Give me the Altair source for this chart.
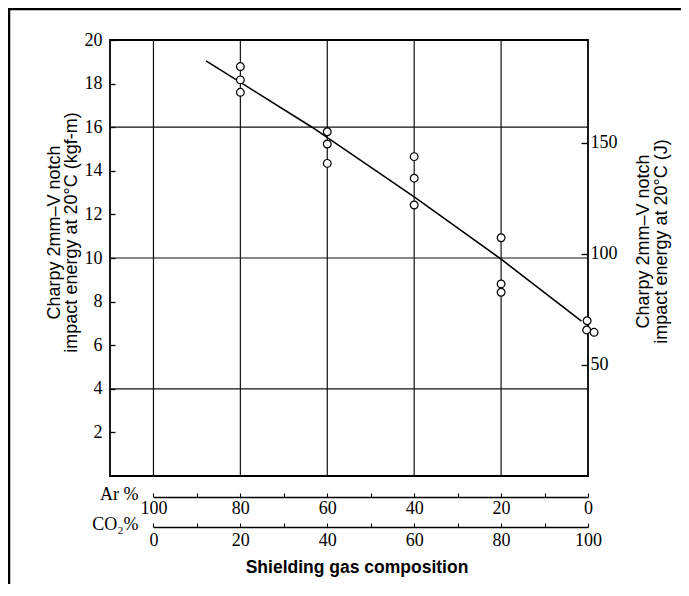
import altair as alt
import pandas as pd

# ---------------- data ----------------
KGF_TO_J = 9.80665

pt_co2 = [20, 20, 20, 40, 40, 40, 60, 60, 60, 80, 80, 80, 99.8, 99.7, 101.4]
pt_kgf = [18.78, 18.17, 17.6, 15.79, 15.23, 14.34, 14.65, 13.66, 12.43,
          10.93, 8.81, 8.43, 7.12, 6.70, 6.59]

fit_co2 = [12.1, 36.5, 60, 80, 98.5]
fit_kgf = [19.04, 16.0, 12.8, 9.95, 7.1]

grid_co2 = [0, 20, 40, 60, 80]
grid_kgf = [4, 10, 16]

left_ticks = [2, 4, 6, 8, 10, 12, 14, 16, 18, 20]
right_ticks = [50, 100, 150]
scale_ticks = [0, 10, 20, 30, 40, 50, 60, 70, 80, 90, 100]

# ---------------- layout ----------------
W, H = 478, 436
X_MIN, X_MAX = -10, 100
Y_MAX = 20
PAD_L, PAD_T, PAD_R, PAD_B = 102, 32, 93, 108
X0 = W * (0 - X_MIN) / (X_MAX - X_MIN)

SERIF = "Liberation Serif"
SANS = "Liberation Sans"

xs = alt.Scale(domain=[X_MIN, X_MAX], nice=False, zero=False)
ys = alt.Scale(domain=[0, Y_MAX], nice=False, zero=False)

pts = pd.DataFrame({"co2": pt_co2, "kgf": pt_kgf})
fit = pd.DataFrame({"co2": fit_co2, "kgf": fit_kgf})
vg = pd.DataFrame({"co2": grid_co2})
hg = pd.DataFrame({"kgf": grid_kgf})
rt = pd.DataFrame({"J": right_ticks})
ar = pd.DataFrame({"ar": scale_ticks})
co = pd.DataFrame({"co2": scale_ticks})
one = pd.DataFrame({"a": [0]})

title_axis = alt.Axis(
    orient="bottom", labels=False, ticks=False, domain=False, grid=False,
    title="Shielding gas composition", titleX=246.5, titleY=91,
    titleAlign="center", titleBaseline="middle", titleFont=SANS,
    titleFontSize=17.5, titleFontWeight="bold", titleColor="black",
)

vgrid = alt.Chart(vg).mark_rule(color="#111", strokeWidth=1.2).encode(
    x=alt.X("co2:Q", scale=xs, axis=title_axis)
)

left_axis = alt.Axis(
    orient="right", offset=-W, values=left_ticks, domain=False, grid=False,
    tickSize=5, tickColor="black", tickWidth=1.3,
    labelAlign="right", labelBaseline="middle", labelPadding=-13,
    labelFont=SERIF, labelFontSize=18, labelColor="black",
    labelFlush=False, labelOverlap=False,
    title=["Charpy 2mm–V notch", "impact energy at 20°C (kgf-m)"],
    titleAngle=270, titleX=-56, titleY=192, titleAlign="center",
    titleBaseline="middle", titleFont=SANS, titleFontSize=18,
    titleFontWeight="normal", titleLineHeight=17, titleColor="black",
)

hgrid = alt.Chart(hg).mark_rule(color="#111", strokeWidth=1.2).encode(
    y=alt.Y("kgf:Q", scale=ys, axis=left_axis)
)

line = alt.Chart(fit).mark_line(color="black", strokeWidth=1.6).encode(
    x=alt.X("co2:Q", scale=xs, axis=None),
    y=alt.Y("kgf:Q", scale=ys, axis=None),
)

points = alt.Chart(pts).mark_point(
    shape="circle", filled=True, fill="white", stroke="black",
    strokeWidth=1.2, size=60, opacity=1,
).encode(
    x=alt.X("co2:Q", scale=xs, axis=None),
    y=alt.Y("kgf:Q", scale=ys, axis=None),
)

right_axis = alt.Axis(
    orient="left", offset=-W, values=right_ticks, domain=False, grid=False,
    tickSize=7, tickColor="black", tickWidth=1.3,
    labelAlign="left", labelBaseline="middle", labelPadding=-9,
    labelFont=SERIF, labelFontSize=18, labelColor="black",
    labelFlush=False, labelOverlap=False,
    title=["Charpy 2mm–V notch", "impact energy at 20°C (J)"],
    titleAngle=270, titleX=55, titleY=201, titleAlign="center",
    titleBaseline="middle", titleFont=SANS, titleFontSize=18,
    titleFontWeight="normal", titleLineHeight=18, titleColor="black",
)

right = alt.Chart(rt).mark_point(opacity=0).encode(
    y=alt.Y("J:Q", scale=alt.Scale(domain=[0, Y_MAX * KGF_TO_J], nice=False, zero=False),
            axis=right_axis)
)


def scale_axis(title, off, pad):
    return alt.Axis(
        orient="top", offset=-off, values=scale_ticks, grid=False,
        domain=True, domainColor="black", domainWidth=1.6,
        tickSize=4, tickColor="black", tickWidth=1.1,
        labelExpr="datum.value % 20 == 0 ? datum.label : ''",
        labelBaseline="top", labelAlign="center", labelPadding=pad,
        labelFont=SERIF, labelFontSize=18, labelColor="black",
        labelFlush=False, labelOverlap=False,
        title=title, titleX=28, titleY=-3, titleAlign="right",
        titleBaseline="middle", titleAngle=0, titleFont=SERIF,
        titleFontSize=18, titleFontWeight="normal", titleColor="black",
    )


ar_layer = alt.Chart(ar).mark_point(opacity=0).encode(
    x=alt.X("ar:Q", scale=alt.Scale(domain=[100, 0], range=[X0, W], nice=False, zero=False),
            axis=scale_axis("Ar %", H + 21, -6.7))
)

co_layer = alt.Chart(co).mark_point(opacity=0).encode(
    x=alt.X("co2:Q", scale=alt.Scale(domain=[0, 100], range=[X0, W], nice=False, zero=False),
            axis=scale_axis("CO₂%", H + 51, -8.2))
)

frame_top = alt.Chart(one).mark_rule(color="black", strokeWidth=2.5).encode(
    x=alt.value(-PAD_L), x2=alt.value(W + PAD_R), y=alt.value(-PAD_T + 1)
)
frame_left = alt.Chart(one).mark_rule(color="black", strokeWidth=2.5).encode(
    x=alt.value(-PAD_L + 1), y=alt.value(-PAD_T), y2=alt.value(H + PAD_B)
)

chart = alt.layer(
    vgrid, hgrid, line, points, right, ar_layer, co_layer, frame_top, frame_left
).resolve_scale(
    x="independent", y="independent"
).properties(
    width=W, height=H,
    padding={"left": PAD_L, "top": PAD_T, "right": PAD_R, "bottom": PAD_B},
    autosize=alt.AutoSizeParams(type="none"),
    background="white",
).configure_view(
    stroke="black", strokeWidth=1.8
)

chart.save("out.html", embed_options={"renderer": "svg", "actions": False})
